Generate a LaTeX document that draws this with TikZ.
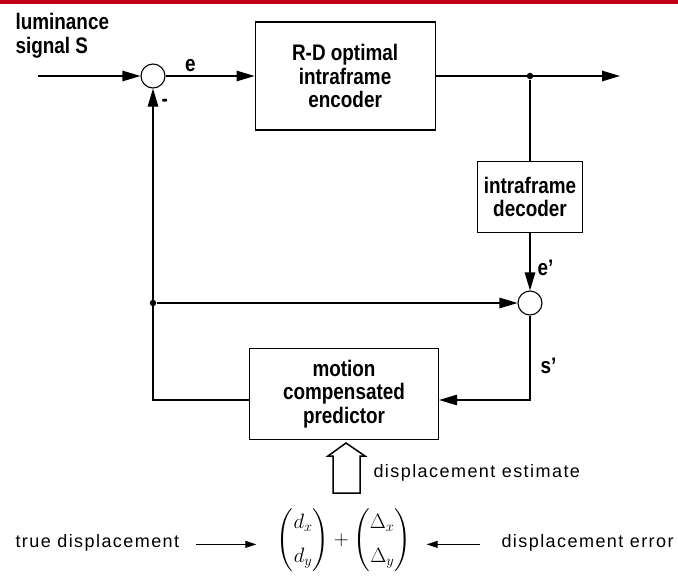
\documentclass[tikz,border=0pt]{standalone}
\usepackage{amsmath,amssymb}
\usepackage{fontspec}
\setmainfont{Liberation Sans}
\newfontfamily\narrowfont[FakeStretch=0.84]{Liberation Sans}
\newfontfamily\spacedfont[LetterSpace=8]{Liberation Sans}
\usepackage{xcolor}
\usetikzlibrary{arrows.meta,positioning,calc}
\definecolor{barred}{RGB}{196,0,22}

\begin{document}
\begin{tikzpicture}[x=1pt,y=-1pt,>={Triangle[length=18pt,width=10.5pt]},line width=1.1pt,
  box/.style={draw,align=center,inner sep=0pt,font=\narrowfont\bfseries\fontsize{22.5}{23.5}\selectfont},
  sumnode/.style={circle,draw,fill=white,minimum size=24pt,inner sep=0pt},
  junction/.style={circle,fill,minimum size=6.5pt,inner sep=0pt},
  lbl/.style={font=\narrowfont\bfseries\fontsize{22.5}{23.5}\selectfont},
  note/.style={font=\spacedfont\fontsize{18}{21}\selectfont,inner sep=0pt}]
  \useasboundingbox (0,0) rectangle (678,576);
  \fill[barred] (0,0) rectangle (678,4);

  % forward branch
  \node[lbl,align=left,anchor=north west,inner sep=0pt] (lum) at (15,13) {luminance\\signal S};
  \coordinate (in) at (38,76);
  \node[sumnode] (sum1) at (153,76) {};
  \node[box,minimum width=180pt,minimum height=108pt,right=89pt of sum1] (enc) {R-D optimal\\intraframe\\encoder};
  \coordinate (out) at (620,76);
  \node[junction] (split) at (530,76) {};
  \node[box,minimum width=105pt,minimum height=71pt] (dec) at (530,197) {intraframe\\decoder};
  \node[sumnode] (sum2) at (530,303) {};
  \node[junction] (tap) at (153,303) {};

  % prediction loop
  \node[box,minimum width=189pt,minimum height=91pt] (pred) at (344,394) {motion\\compensated\\predictor};
  \coordinate (cl) at (153,400);
  \coordinate (cr) at (530,400);

  \draw[->] (in) -- (sum1);
  \draw[->] (sum1) -- node[lbl,above,pos=.28,inner sep=4pt] {e} (enc);
  \draw[->] (enc) -- (out);
  \draw (split) -- (dec);
  \draw[->] (dec) -- node[lbl,right,pos=.6,inner sep=7pt] {e’} (sum2);
  \draw[->] (tap) -- (sum2);
  \draw[->] (sum2) -- node[lbl,right,pos=.6,inner sep=10pt] {s’} (cr) -- (cr -| pred.east);
  \draw[->] (pred.west |- cl) -- (cl) -- node[lbl,right,pos=.955,inner sep=8pt] {-} (sum1);

  % displacement estimate
  \coordinate (est) at (346,493);
  \draw[line width=1.5pt,line join=miter] (est) ++(-13,0) -- ++(0,-37) -- ++(-5,0) -- (346,443)
    -- ++(19,13) -- ++(-5,0) -- ++(0,37) -- cycle;
  \node[note,anchor=base west] (estlbl) at (373,477) {displacement estimate};

  \node[inner sep=0pt,font=\fontsize{21}{25}\selectfont] (eq) at (344,540)
    {$\left(\begin{matrix} d_x\\[9pt] d_y\end{matrix}\right)+\left(\begin{matrix}\Delta_x\\[9pt] \Delta_y\end{matrix}\right)$};
  \node[note,anchor=base west] (truelbl) at (15,547) {true displacement};
  \node[note,anchor=base west] (errlbl) at (501,547) {displacement error};
  \draw[->,line width=1pt,>={Triangle[length=11pt,width=7pt]},shorten <=16pt,shorten >=20pt]
    (truelbl.mid east) -- (truelbl.mid east -| eq.west);
  \draw[->,line width=1pt,>={Triangle[length=11pt,width=7pt]},shorten <=21pt,shorten >=15pt]
    (errlbl.mid west) -- (errlbl.mid west -| eq.east);
\end{tikzpicture}
\end{document}
